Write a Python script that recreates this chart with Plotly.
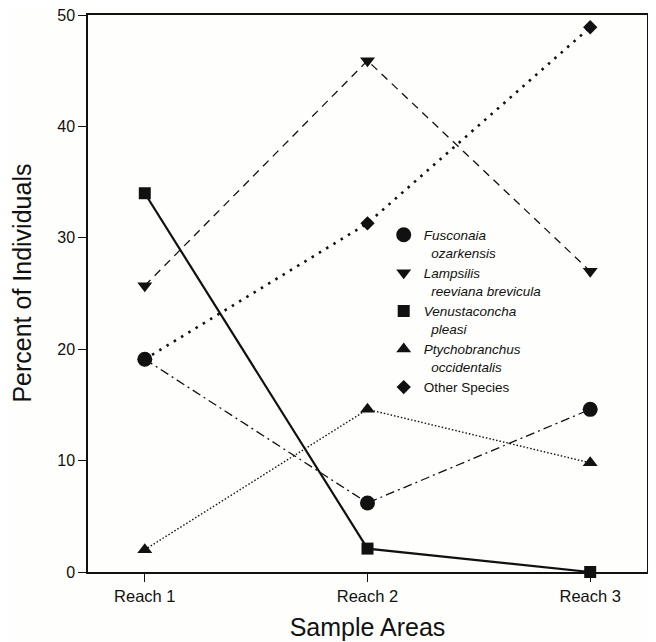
import plotly.graph_objects as go

reaches = ["Reach 1", "Reach 2", "Reach 3"]
reach_pos = [1, 2, 3]

fusconaia = [19.1, 6.2, 14.6]
lampsilis = [25.7, 45.9, 27.0]
venustaconcha = [34.0, 2.1, 0.0]
ptychobranchus = [2.0, 14.6, 9.8]
other_species = [19.1, 31.3, 48.9]

y_ticks = [0, 10, 20, 30, 40, 50]

INK = "#111111"
BG = "#fefefc"
FONT = "Liberation Sans, Arial, Helvetica, sans-serif"

series = [
    # name, legend label, values, symbol, size, dash, width
    ("Other Species", "Other Species", other_species, "diamond", 11, "2.5px,6px", 2.6),
    ("Fusconaia", "<i>Fusconaia</i><br><i>&nbsp;&nbsp;ozarkensis</i>", fusconaia, "circle", 15, "9px,4px,2px,4px", 1.3),
    ("Lampsilis", "<i>Lampsilis</i><br><i>&nbsp;&nbsp;reeviana brevicula</i>", lampsilis, "triangle-down", 13, "8px,6px", 1.3),
    ("Venustaconcha", "<i>Venustaconcha</i><br><i>&nbsp;&nbsp;pleasi</i>", venustaconcha, "square", 12, "solid", 2.2),
    ("Ptychobranchus", "<i>Ptychobranchus</i><br><i>&nbsp;&nbsp;occidentalis</i>", ptychobranchus, "triangle-up", 13, "1.5px,2px", 1.4),
]

legend_order = ["Fusconaia", "Lampsilis", "Venustaconcha", "Ptychobranchus", "Other Species"]

fig = go.Figure()
for name, label, vals, sym, size, dash, width in series:
    fig.add_trace(go.Scatter(
        x=reach_pos, y=vals, mode="lines+markers", name=name,
        line=dict(color=INK, dash=dash, width=width),
        marker=dict(symbol=sym, size=size, color=INK),
        showlegend=False, cliponaxis=False,
    ))

# legend entries (markers only)
lookup = {s[0]: s for s in series}
for i, key in enumerate(legend_order):
    name, label, vals, sym, size, dash, width = lookup[key]
    fig.add_trace(go.Scatter(
        x=[None], y=[None], mode="markers", name=label,
        marker=dict(symbol=sym, size=size, color=INK),
        showlegend=True, legendrank=i + 1,
    ))

# page body has an 8px default margin; size the figure to fill the rest
fig.update_layout(
    width=648, height=634,
    margin=dict(l=80, r=9, t=7, b=70, autoexpand=False),
    paper_bgcolor=BG, plot_bgcolor=BG,
    font=dict(family=FONT, color=INK, size=16),
    showlegend=True,
    legend=dict(
        x=0.529, y=0.633, xanchor="left", yanchor="top",
        bgcolor="rgba(0,0,0,0)", borderwidth=0,
        font=dict(size=13.5, family=FONT, color=INK),
        valign="top", traceorder="normal",
        itemclick=False, itemdoubleclick=False,
    ),
    xaxis=dict(
        range=[0.745, 3.255], tickmode="array", tickvals=reach_pos, ticktext=reaches,
        ticks="outside", ticklen=8, tickcolor=INK, tickwidth=1,
        showline=True, linecolor=INK, linewidth=1.5, mirror=True,
        showgrid=False, zeroline=False, automargin=False,
        ticklabeloverflow="allow",
        tickfont=dict(size=16.5),
        title=dict(text="Sample Areas", font=dict(size=25), standoff=15),
    ),
    yaxis=dict(
        range=[0, 50], tickmode="array", tickvals=y_ticks,
        ticks="outside", ticklen=8, tickcolor=INK, tickwidth=1,
        showline=True, linecolor=INK, linewidth=1.5, mirror=True,
        showgrid=False, zeroline=False, automargin=False,
        ticklabeloverflow="allow",
        tickfont=dict(size=16),
        title=dict(text="&nbsp;&nbsp;&nbsp;Percent of Individuals", font=dict(size=25), standoff=21),
    ),
    yaxis2=dict(
        range=[0, 50], overlaying="y", side="right", tickmode="array", tickvals=y_ticks,
        ticks="inside", ticklen=9, tickcolor="#888888", tickwidth=1, automargin=False,
        showticklabels=False, showgrid=False, zeroline=False, showline=False,
    ),
)

fig.write_html("out.html")
